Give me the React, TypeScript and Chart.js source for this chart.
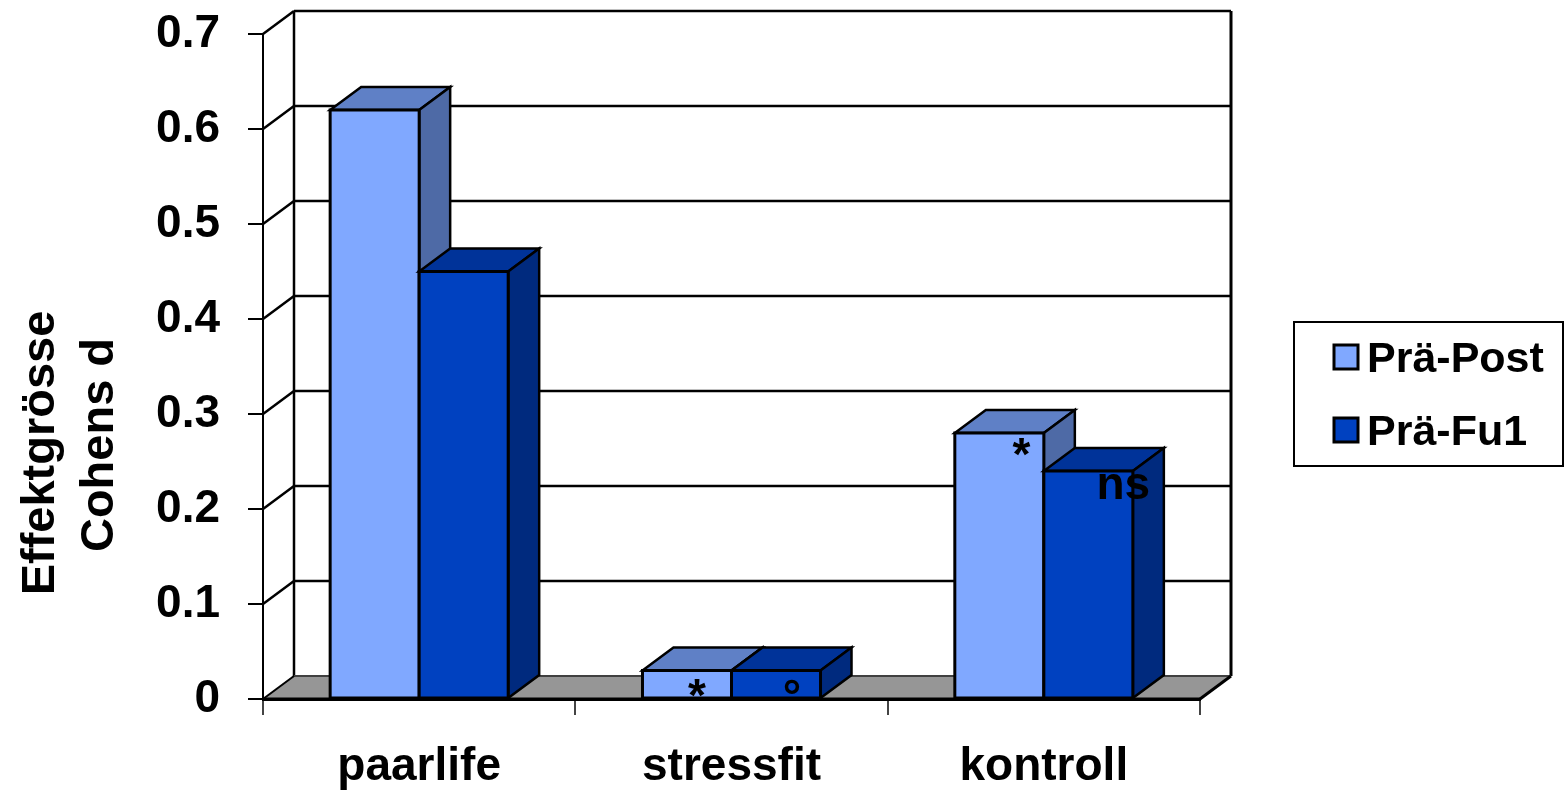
import React, { useEffect, useRef } from "react";
import { Chart, registerables } from "chart.js";

Chart.register(...registerables);

// ---------- data ----------
const categories = ["paarlife", "stressfit", "kontroll"];
const seriesNames = ["Prä-Post", "Prä-Fu1"];
const praePost = [0.62, 0.03, 0.28];
const praeFu1 = [0.45, 0.03, 0.24];
const praePostMarks = ["", "*", "*"];
const praeFu1Marks = ["", "°", "ns"];
const yMin = 0;
const yMax = 0.7;
const yStep = 0.1;
const yTitle = ["Effektgrösse", "Cohens d"];

// ---------- styling / layout ----------
const FONT = '"Liberation Sans", Arial, Helvetica, sans-serif';
const TICK_SIZE = 46;
const TITLE_SIZE = 47;
const LEGEND_SIZE = 43;
const MARK_SIZE = 46;
const DEPTH = { dx: 31, dy: -23 };
const faceColors = [
  { front: "#80A8FF", top: "#5F80C6", side: "#4E6AA6" },
  { front: "#0041C0", top: "#003399", side: "#002A7E" },
];
// mark placement: [dx from bar centre, dy of baseline from bar top]
const markOffsets = [
  [null, [10, 40], [22, 37]],
  [null, [16, 41], [35, 28]],
];
const marks = [praePostMarks, praeFu1Marks];

const threeD = {
  id: "threeD",
  beforeDatasetsDraw(chart: any) {
    const ctx = chart.ctx as CanvasRenderingContext2D;
    const { left, right, top, bottom } = chart.chartArea;
    const ys = chart.scales.y;
    const { dx, dy } = DEPTH;
    ctx.save();
    ctx.lineCap = "butt";
    ctx.strokeStyle = "#000";
    ctx.lineWidth = 2.5;
    ys.ticks.forEach((t: any) => {
      if (t.value === 0) return;
      const py = ys.getPixelForValue(t.value);
      ctx.beginPath();
      ctx.moveTo(left + dx, py + dy);
      ctx.lineTo(right + dx, py + dy);
      ctx.stroke();
      ctx.beginPath();
      ctx.moveTo(left, py);
      ctx.lineTo(left + dx, py + dy);
      ctx.stroke();
    });
    ctx.beginPath();
    ctx.moveTo(left + dx, top + dy);
    ctx.lineTo(left + dx, bottom + dy);
    ctx.stroke();
    ctx.lineWidth = 3;
    ctx.beginPath();
    ctx.moveTo(right + dx, top + dy);
    ctx.lineTo(right + dx, bottom + dy);
    ctx.stroke();
    // floor
    ctx.fillStyle = "#969696";
    ctx.beginPath();
    ctx.moveTo(left, bottom);
    ctx.lineTo(right, bottom);
    ctx.lineTo(right + dx, bottom + dy);
    ctx.lineTo(left + dx, bottom + dy);
    ctx.closePath();
    ctx.fill();
    ctx.strokeStyle = "#404040";
    ctx.lineWidth = 2;
    ctx.beginPath();
    ctx.moveTo(left + dx, bottom + dy);
    ctx.lineTo(right + dx, bottom + dy);
    ctx.stroke();
    ctx.strokeStyle = "#000";
    ctx.beginPath();
    ctx.moveTo(left, bottom);
    ctx.lineTo(left + dx, bottom + dy);
    ctx.stroke();
    ctx.lineWidth = 3;
    ctx.beginPath();
    ctx.moveTo(right, bottom);
    ctx.lineTo(right + dx, bottom + dy);
    ctx.stroke();
    ctx.beginPath();
    ctx.moveTo(left, bottom);
    ctx.lineTo(right, bottom);
    ctx.stroke();
    ctx.restore();
  },
  afterDatasetsDraw(chart: any) {
    const ctx = chart.ctx as CanvasRenderingContext2D;
    const { dx, dy } = DEPTH;
    const metas = [chart.getDatasetMeta(0), chart.getDatasetMeta(1)];
    ctx.save();
    ctx.lineJoin = "miter";
    for (let i = 0; i < categories.length; i++) {
      metas.forEach((meta: any, d: number) => {
        const el = meta.data[i];
        const { x, y, base, width } = el.getProps(["x", "y", "base", "width"], true);
        const l = x - width / 2;
        const r = x + width / 2;
        const c = faceColors[d];
        ctx.strokeStyle = "#000";
        ctx.lineWidth = 2.5;
        ctx.fillStyle = c.top;
        ctx.beginPath();
        ctx.moveTo(l, y);
        ctx.lineTo(r, y);
        ctx.lineTo(r + dx, y + dy);
        ctx.lineTo(l + dx, y + dy);
        ctx.closePath();
        ctx.fill();
        ctx.stroke();
        ctx.fillStyle = c.side;
        ctx.beginPath();
        ctx.moveTo(r, y);
        ctx.lineTo(r + dx, y + dy);
        ctx.lineTo(r + dx, base + dy);
        ctx.lineTo(r, base);
        ctx.closePath();
        ctx.fill();
        ctx.stroke();
        ctx.fillStyle = c.front;
        ctx.lineWidth = 3;
        ctx.beginPath();
        ctx.rect(l, y, width, base - y);
        ctx.fill();
        ctx.stroke();
      });
    }
    ctx.fillStyle = "#000";
    ctx.font = `bold ${MARK_SIZE}px ${FONT}`;
    ctx.textAlign = "center";
    ctx.textBaseline = "alphabetic";
    metas.forEach((meta: any, d: number) => {
      marks[d].forEach((m, i) => {
        const off = markOffsets[d][i];
        if (!m || !off) return;
        const el = meta.data[i];
        const { x, y } = el.getProps(["x", "y"], true);
        ctx.fillText(m, x + off[0], y + off[1]);
      });
    });
    ctx.restore();
  },
  afterDraw(chart: any) {
    const ctx = chart.ctx as CanvasRenderingContext2D;
    ctx.save();
    ctx.fillStyle = "#000";
    ctx.font = `bold ${TITLE_SIZE}px ${FONT}`;
    ctx.textAlign = "center";
    ctx.textBaseline = "alphabetic";
    const titlePos = [
      [54, 453],
      [113, 445],
    ];
    yTitle.forEach((t, k) => {
      ctx.save();
      ctx.translate(titlePos[k][0], titlePos[k][1]);
      ctx.rotate(-Math.PI / 2);
      ctx.fillText(t, 0, 0);
      ctx.restore();
    });
    // legend
    const bx = 1294, by = 322, bw = 269, bh = 144;
    ctx.fillStyle = "#fff";
    ctx.fillRect(bx, by, bw, bh);
    ctx.strokeStyle = "#000";
    ctx.lineWidth = 2;
    ctx.strokeRect(bx, by, bw, bh);
    ctx.font = `bold ${LEGEND_SIZE}px ${FONT}`;
    const baselines = [372, 445];
    seriesNames.forEach((name, k) => {
      const sy = baselines[k] - 27;
      ctx.fillStyle = faceColors[k].front;
      ctx.fillRect(1334, sy, 24, 24);
      ctx.lineWidth = 3;
      ctx.strokeStyle = "#000";
      ctx.strokeRect(1334, sy, 24, 24);
      ctx.fillStyle = "#000";
      ctx.textAlign = "left";
      ctx.fillText(name, 1367, baselines[k]);
    });
    ctx.restore();
  },
};

export default function App() {
  const ref = useRef<HTMLCanvasElement>(null);
  useEffect(() => {
    const canvas = ref.current!;
    const chart = new Chart(canvas, {
      type: "bar",
      data: {
        labels: categories,
        datasets: [
          {
            label: seriesNames[0],
            data: praePost,
            backgroundColor: faceColors[0].front,
            borderColor: "#000",
            borderWidth: 2,
            borderSkipped: false,
          },
          {
            label: seriesNames[1],
            data: praeFu1,
            backgroundColor: faceColors[1].front,
            borderColor: "#000",
            borderWidth: 2,
            borderSkipped: false,
          },
        ],
      },
      options: {
        responsive: false,
        animation: false,
        devicePixelRatio: 1,
        categoryPercentage: 0.57,
        barPercentage: 1,
        layout: { padding: { left: 0, top: 34, right: 365, bottom: 0 } },
        plugins: {
          legend: { display: false },
          tooltip: { enabled: false },
        },
        scales: {
          x: {
            offset: true,
            grid: {
              offset: true,
              drawOnChartArea: false,
              drawTicks: true,
              tickLength: 16,
              color: "#444",
              lineWidth: 2,
            },
            border: { display: true, color: "#000", width: 3 },
            ticks: {
              color: "#000",
              padding: 25,
              font: { family: FONT, size: TICK_SIZE, weight: "bold" },
            },
            afterFit: (s: any) => {
              s.height = 93;
              s.paddingLeft = 0;
              s.paddingRight = 0;
            },
          },
          y: {
            min: yMin,
            max: yMax,
            grid: {
              drawOnChartArea: false,
              drawTicks: true,
              tickLength: 15,
              color: "#000",
              lineWidth: 2,
            },
            border: { display: true, color: "#000", width: 2 },
            ticks: {
              stepSize: yStep,
              color: "#000",
              padding: 28,
              font: { family: FONT, size: TICK_SIZE, weight: "bold" },
              callback: (v: any) => (Number(v) === 0 ? "0" : Number(v).toFixed(1)),
            },
            afterFit: (s: any) => {
              s.width = 263;
              s.paddingTop = 0;
              s.paddingBottom = 0;
            },
          },
        },
      },
      plugins: [threeD],
    } as any);
    return () => chart.destroy();
  }, []);
  return (
    <div style={{ position: "absolute", left: 0, top: 0, width: 1565, height: 792, background: "#fff" }}>
      <canvas ref={ref} width={1565} height={792} style={{ display: "block", width: 1565, height: 792 }} />
    </div>
  );
}
